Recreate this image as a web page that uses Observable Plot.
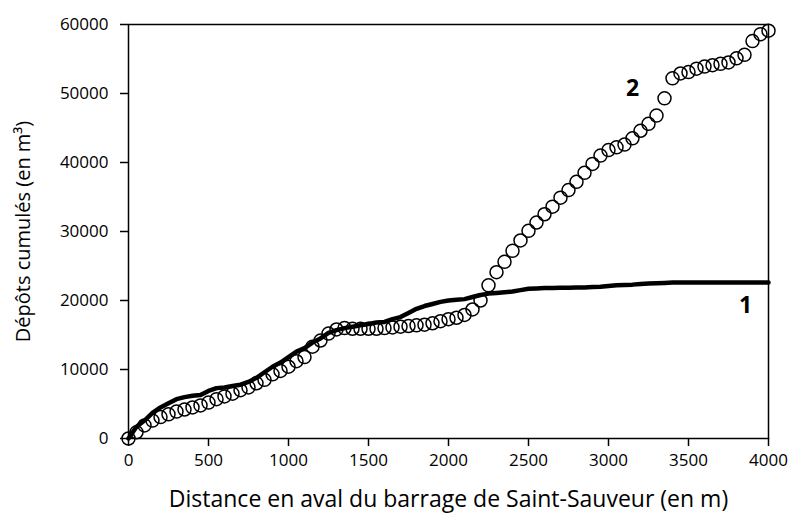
<!DOCTYPE html>
<html>
<head>
<meta charset="utf-8">
<script src="https://cdn.jsdelivr.net/npm/d3@7"></script>
<script src="https://cdn.jsdelivr.net/npm/@observablehq/plot@0.6"></script>
<style>
  html, body { margin: 0; padding: 0; background: #fff; }
</style>
</head>
<body>
<div id="chart"></div>
<script>
// Distances (m) every 50 m
const distances = [0,50,100,150,200,250,300,350,400,450,500,550,600,650,700,750,800,850,900,950,
  1000,1050,1100,1150,1200,1250,1300,1350,1400,1450,1500,1550,1600,1650,1700,1750,1800,1850,1900,1950,
  2000,2050,2100,2150,2200,2250,2300,2350,2400,2450,2500,2550,2600,2650,2700,2750,2800,2850,2900,2950,
  3000,3050,3100,3150,3200,3250,3300,3350,3400,3450,3500,3550,3600,3650,3700,3750,3800,3850,3900,3950,4000];

// Series 1 (thick line)
const serie1 = [0,1700,2600,3700,4500,5100,5700,6000,6200,6300,6900,7300,7400,7600,7800,8200,8800,9600,10400,11000,
  11800,12600,13100,13900,14500,15300,15700,16000,16200,16400,16600,16800,16900,17300,17600,18200,18800,19200,19500,19800,
  20000,20100,20200,20500,20800,21000,21100,21200,21300,21500,21700,21750,21800,21800,21850,21850,21900,21900,21950,22000,
  22100,22200,22250,22300,22400,22450,22500,22550,22600,22600,22600,22600,22600,22600,22600,22600,22600,22600,22600,22600,22600];

// Series 2 (open circles)
const serie2 = [0,900,1900,2600,3100,3500,3900,4200,4500,4800,5200,5700,6100,6500,7000,7400,8000,8500,9300,9800,
  10400,11200,11800,13300,14200,15200,15800,16000,15900,15900,15900,15900,16000,16100,16200,16300,16400,16500,16700,17000,
  17300,17500,17900,18700,20000,22200,24100,25600,27200,28700,30100,31300,32500,33600,34900,36000,37200,38500,39800,41000,
  41800,42200,42600,43500,44600,45600,46800,49300,52200,52900,53100,53600,53900,54100,54300,54500,55100,55600,57600,58600,59100];

const xTicks = [0,500,1000,1500,2000,2500,3000,3500,4000];
const yTicks = [0,10000,20000,30000,40000,50000,60000];

const seriesLabels = [
  {d: 3856, v: 19300, t: "1"},
  {d: 3150, v: 50700, t: "2"}
];

const xTitle = "Distance en aval du barrage de Saint-Sauveur (en m)";
const yTitle = "Dépôts cumulés (en m³)";

const line1 = distances.map((d, i) => ({d, v: serie1[i]}));
const pts2 = distances.map((d, i) => ({d, v: serie2[i]}));

const chart = Plot.plot({
  width: 793,
  height: 523,
  marginLeft: 128,
  marginRight: 25,
  marginTop: 24,
  marginBottom: 85,
  x: {domain: [0, 4000]},
  y: {domain: [0, 60000]},
  style: {fontFamily: "'Open Sans', sans-serif", fontSize: "17px", color: "#000", background: "#fff"},
  marks: [
    Plot.frame({stroke: "#000", strokeWidth: 1.5}),
    Plot.axisX({ticks: xTicks, tickSize: 8, tickPadding: 7, tickFormat: d => String(d), label: null, fontSize: 17, strokeWidth: 1.5}),
    Plot.axisY({ticks: yTicks, tickSize: 8, tickPadding: 12, tickFormat: d => String(d), label: null, fontSize: 17, strokeWidth: 1.5}),
    Plot.line(line1, {x: "d", y: "v", stroke: "#000", strokeWidth: 4.5, strokeLinejoin: "round"}),
    Plot.dot(pts2, {x: "d", y: "v", r: 6.5, stroke: "#000", strokeWidth: 1.5, fill: "none"}),
    Plot.text(seriesLabels, {x: "d", y: "v", text: "t", fontWeight: "bold", fontSize: 23, fill: "#000"}),
    Plot.text([xTitle], {frameAnchor: "bottom", textAnchor: "middle", dy: 68, fontSize: 23, fill: "#000"}),
    Plot.text([yTitle], {frameAnchor: "left", textAnchor: "middle", dx: -105, rotate: -90, fontSize: 20, fill: "#000"})
  ]
});
document.getElementById("chart").appendChild(chart);
</script>
</body>
</html>
